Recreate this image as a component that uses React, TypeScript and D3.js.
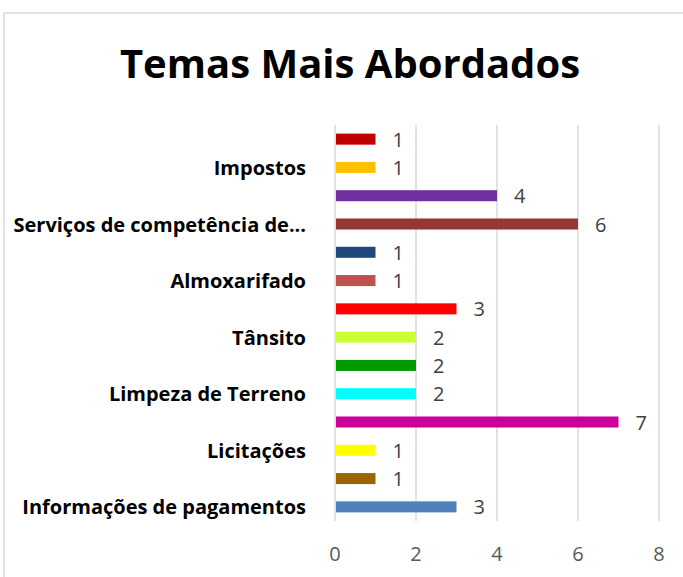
import React from "react";
import * as d3 from "d3";

const title = "Temas Mais Abordados";
// bottom to top
const categoryLabels = [
  "Informações de pagamentos",
  "",
  "Licitações",
  "",
  "Limpeza de Terreno",
  "",
  "Tânsito",
  "",
  "Almoxarifado",
  "",
  "Serviços de competência de...",
  "",
  "Impostos",
  "",
];
const values = [3, 1, 1, 7, 2, 2, 2, 3, 1, 1, 6, 4, 1, 1];
const barColors = [
  "#4F81BD",
  "#996600",
  "#FFFF00",
  "#CC0099",
  "#00FFFF",
  "#009900",
  "#CCFF33",
  "#FF0000",
  "#C0504D",
  "#1F497D",
  "#943634",
  "#7030A0",
  "#FFC000",
  "#C00000",
];
const xTicks = [0, 2, 4, 6, 8];

const W = 683;
const H = 577;
const plot = { left: 335, right: 659, top: 125, bottom: 521 };

export default function App() {
  const x = d3.scaleLinear().domain([0, 8]).range([plot.left, plot.right]);
  const y = d3
    .scaleBand<number>()
    .domain(d3.range(values.length))
    .range([plot.bottom, plot.top])
    .paddingInner(0.61)
    .paddingOuter(0.305);
  const bw = y.bandwidth();
  const font = "'Open Sans', 'DejaVu Sans', sans-serif";

  return (
    <svg
      width={W}
      height={H}
      style={{ position: "absolute", left: 0, top: 0, background: "#fff" }}
    >
      <rect x={4} y={13} width={W + 20} height={H + 20} fill="#fff" stroke="#d9d9d9" strokeWidth={1.5} />
      <text
        x={350}
        y={78}
        textAnchor="middle"
        fontFamily={font}
        fontWeight="bold"
        fontSize={40}
        fill="#000"
      >
        {title}
      </text>
      {xTicks.map((t) => (
        <g key={t}>
          <line x1={x(t)} x2={x(t)} y1={plot.top} y2={plot.bottom} stroke="#d9d9d9" strokeWidth={1.5} />
          <text
            x={x(t)}
            y={561}
            textAnchor="middle"
            fontFamily={font}
            fontSize={20}
            fill="#595959"
          >
            {t}
          </text>
        </g>
      ))}
      {values.map((v, i) => {
        const yc = (y(i) as number) + bw / 2;
        return (
          <g key={i}>
            <rect x={x(0) + 1} y={y(i)} width={x(v) - x(0) - 1} height={bw} fill={barColors[i]} />
            <text x={x(v) + 17} y={yc + 7.5} fontFamily={font} fontSize={20} fill="#404040">
              {v}
            </text>
            {categoryLabels[i] && (
              <text
                x={306}
                y={yc + 7.5}
                textAnchor="end"
                fontFamily={font}
                fontWeight="bold"
                fontSize={20}
                fill="#000"
              >
                {categoryLabels[i]}
              </text>
            )}
          </g>
        );
      })}
    </svg>
  );
}
